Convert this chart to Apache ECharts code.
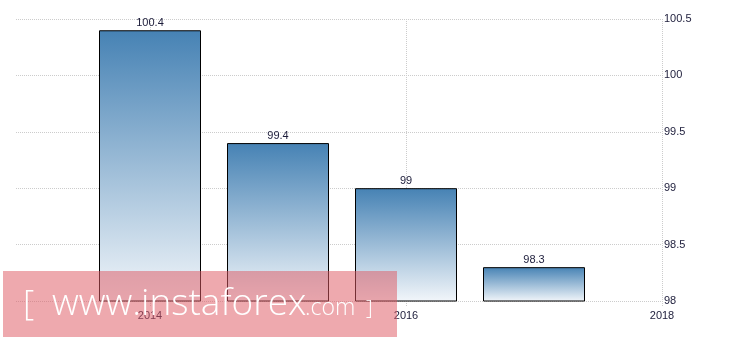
<!DOCTYPE html>
<html>
<head>
<meta charset="utf-8">
<script src="https://cdn.jsdelivr.net/npm/echarts@6/dist/echarts.min.js"></script>
<style>html,body{margin:0;padding:0;background:#fff;}#c{width:730px;height:340px;}</style>
</head>
<body>
<div id="c"></div>
<script>
const years = [2014, 2015, 2016, 2017];
const values = [100.4, 99.4, 99, 98.3];
const xTickLabels = [2014, 2016, 2018];
const yMin = 98, yMax = 100.5, yStep = 0.5;

const chart = echarts.init(document.getElementById('c'), null, {renderer: 'canvas'});
const txt = '#1c1c3a';
const font = 'Liberation Sans';
const wm = (text, x, y, size) => ({
  type: 'text', z: 101, x: x, y: y,
  style: {text: text, fill: '#fff', fontSize: size, fontFamily: 'Open Sans', fontWeight: 300,
    align: 'left', verticalAlign: 'middle'}
});
chart.setOption({
  animation: false,
  grid: {left: 16, right: 68, top: 19, bottom: 39},
  xAxis: {
    type: 'value',
    min: 2014 - 134 / 128,
    max: 2018,
    axisLine: {show: false},
    axisTick: {show: true, customValues: xTickLabels, length: 5, lineStyle: {color: '#ccc', type: 'dotted'}},
    axisLabel: {customValues: xTickLabels, color: txt, fontFamily: font, fontSize: 11, margin: 9, formatter: v => String(v)},
    splitLine: {show: true, lineStyle: {color: '#ccc', type: 'dotted'}}
  },
  yAxis: {
    type: 'value',
    position: 'right',
    min: yMin, max: yMax, interval: yStep,
    axisLine: {show: false},
    axisTick: {show: false},
    axisLabel: {color: txt, fontFamily: font, fontSize: 11, margin: 2, formatter: v => String(+v.toFixed(1))},
    splitLine: {show: true, lineStyle: {color: '#ccc', type: 'dotted'}}
  },
  series: [{
    type: 'bar',
    barWidth: 102,
    data: years.map((y, i) => [y, values[i]]),
    itemStyle: {
      borderColor: '#000', borderWidth: 1,
      color: new echarts.graphic.LinearGradient(0, 0, 0, 1, [
        {offset: 0, color: '#4682b4'},
        {offset: 1, color: '#f2f6fa'}
      ])
    },
    label: {show: true, position: 'top', distance: 2, color: txt, fontFamily: font, fontSize: 11,
      formatter: p => String(p.value[1])}
  }],
  graphic: [
    {type: 'rect', left: 3, top: 271, z: 100, shape: {width: 394, height: 66},
      style: {fill: 'rgba(222,90,100,0.52)'}},
    wm('[', 23, 305.4, 35),
    wm('www.instaforex', 52, 304.8, 37),
    wm('.com', 305, 308.7, 23),
    wm(']', 366, 309.2, 21)
  ]
});
</script>
</body>
</html>
